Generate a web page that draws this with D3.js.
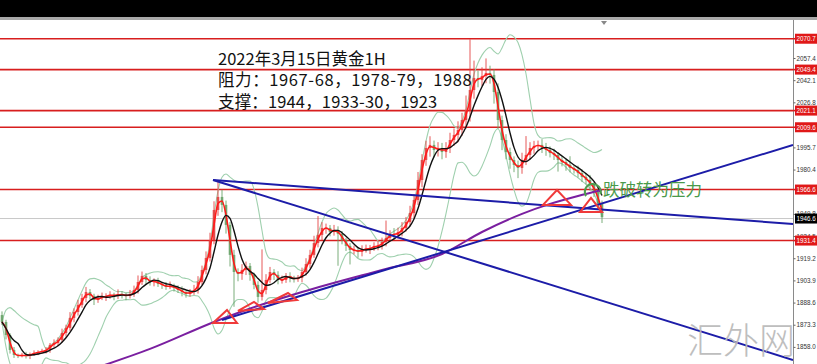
<!DOCTYPE html>
<html><head><meta charset="utf-8">
<script src="https://cdn.jsdelivr.net/npm/d3@7"></script>
<style>body{margin:0;background:#fff;overflow:hidden}svg{display:block}</style>
</head><body>
<svg id="c" width="817" height="364"></svg>
<script>
// ---- data ----
const closes = [1875.2,1866.2,1855.9,1852.4,1851.8,1852.4,1851.8,1853.1,1853.8,1854.5,
1855.2,1855.9,1859.4,1860.7,1862.8,1867.6,1871.1,1878.0,1882.1,1887.0,
1891.8,1895.9,1893.2,1890.4,1891.8,1892.5,1893.2,1893.9,1893.2,1894.5,
1893.9,1893.2,1894.5,1897.3,1902.8,1907.0,1904.2,1902.8,1903.5,1901.4,
1900.8,1899.4,1900.1,1898.7,1897.3,1895.9,1894.5,1895.9,1897.3,1902.8,
1911.1,1919.4,1931.8,1952.5,1961.5,1956.0,1942.2,1921.5,1909.7,1908.3,
1911.1,1913.9,1907.7,1900.8,1892.5,1897.3,1904.2,1909.7,1907.7,1904.2,
1904.2,1907.0,1905.6,1904.9,1905.6,1909.7,1915.2,1921.5,1929.7,1935.3,
1940.1,1940.1,1937.3,1938.7,1936.0,1931.8,1927.7,1924.9,1924.9,1923.5,
1925.6,1925.6,1926.3,1927.7,1927.7,1930.4,1933.2,1936.0,1935.3,1937.3,
1940.1,1944.2,1950.4,1959.4,1973.2,1987.0,1995.3,1997.4,1993.9,1995.3,
1992.5,1995.3,2000.8,2004.3,2007.7,2014.6,2021.5,2035.3,2043.6,2042.2,
2045.0,2047.1,2045.7,2033.9,2014.6,2000.8,1992.5,1987.0,1983.6,1981.5,
1987.0,1990.5,1995.3,1996.7,1997.4,1995.3,1993.9,1991.8,1990.5,1987.0,
1985.6,1983.6,1981.5,1980.1,1978.0,1975.3,1973.2,1969.8,1964.9,1957.0,
1947.5];
const firstOpen = 1880.0;
const upperWick = [2.5,1.5,1.2,2.0,1.0,1.5,2.2,1.0,1.8,1.2,
1.5,2.0,1.3,2.5,1.8,3.0,2.2,4.0,2.5,3.5,
2.8,3.5,2.0,1.5,2.2,3.0,1.8,2.5,1.5,3.2,
2.0,1.5,2.8,3.0,4.5,3.0,2.0,2.5,1.8,2.2,
1.5,2.0,3.0,1.5,1.8,2.5,1.2,2.0,3.5,4.0,
3.0,4.5,5.0,6.0,11.5,5.0,3.0,2.0,3.5,2.5,
4.0,3.0,2.0,1.5,2.5,28.0,4.0,3.5,2.0,2.5,
3.0,2.0,2.5,1.5,2.0,3.0,4.0,3.5,5.0,13.0,
4.0,3.0,2.0,3.5,2.5,2.0,1.5,2.0,3.0,2.0,
2.5,3.0,2.0,2.5,3.5,3.0,12.0,2.5,4.0,3.0,
4.0,3.5,5.0,4.0,5.5,4.0,5.0,6.0,3.0,4.0,
3.5,4.0,5.0,4.5,6.0,5.0,10.0,35.0,12.0,5.0,
6.0,10.0,5.0,4.0,6.0,3.0,4.0,3.0,2.5,3.0,
5.0,13.0,4.0,3.5,3.0,4.0,3.5,2.5,3.0,2.0,
3.0,2.5,6.0,2.0,3.0,2.5,2.0,3.5,2.0,2.5,
2.0];
const lowerWick = [2.0,3.0,2.5,2.0,1.5,1.0,1.8,2.2,1.2,1.5,
1.0,1.8,2.0,1.5,2.2,1.8,2.5,2.0,3.0,2.5,
2.0,3.0,2.5,3.5,2.0,1.5,2.8,2.0,3.0,2.2,
2.5,3.0,1.8,2.0,2.5,2.0,3.5,2.5,3.0,2.0,
2.8,2.0,1.5,2.5,2.0,3.0,2.5,1.8,2.0,2.5,
2.0,3.0,2.5,3.0,4.0,5.0,6.0,8.0,24.0,5.0,
4.0,3.5,4.0,3.0,4.0,2.5,3.0,2.0,3.5,3.0,
2.5,2.0,3.0,2.5,2.0,3.0,2.5,3.0,2.0,3.0,
3.5,4.0,3.0,2.5,22.0,3.0,3.5,10.0,3.0,4.0,
3.0,2.5,3.5,2.0,3.0,2.5,3.0,2.0,3.5,2.5,
3.0,2.5,3.0,4.0,3.5,5.0,4.0,6.0,5.0,4.5,
5.0,4.0,3.5,4.0,5.0,4.0,6.0,8.0,6.0,5.0,
4.0,5.0,6.0,8.0,6.0,7.0,5.0,6.0,5.0,7.0,
4.0,3.5,3.0,4.0,3.0,3.5,4.0,3.0,3.5,8.0,
3.0,4.0,3.0,2.5,3.0,3.5,3.0,4.0,3.5,4.0,
4.0];
const levelLines = [2070.7, 2049.4, 2021.1, 2009.6, 1966.6, 1931.4];
const currentPrice = 1946.6;
const axisTicks = [2057.4, 2042.1, 2026.8, 1995.7, 1980.4, 1949.8, 1934.5, 1919.2, 1903.9, 1888.6, 1873.3, 1858.0];
const trendLines = [
  [[52.75, 1973.2], [197.75, 1942.8]],
  [[52.75, 1973.2], [197.75, 1849.0]],
  [[55.0, 1876.6], [197.75, 1997.4]]
];
const longMA = [[25,1844.9],[37,1856.6],[53,1875.2],[61,1883.5],[75,1895.9],[95,1911.1],[110,1922.1],[120,1937.3],[130,1949.8],[137,1956.7],[144,1962.2],[150,1966.3]];
const triangles = [
  [[52.75,1874.5],[56.25,1883.5],[58.75,1874.5]],
  [[59,1882.8],[63,1889.0],[65.5,1884.2]],
  [[66.5,1888.3],[71.5,1895.2],[73.75,1890.4]],
  [[135.25,1956.0],[138.75,1966.3],[142.25,1956.0]],
  [[144.5,1951.1],[147.25,1960.8],[150,1951.1]]
];
const titleLines = ["2022年3月15日黄金1H", "阻力：1967-68，1978-79，1988", "支撑：1944，1933-30，1923"];
const noteText = "跌破转为压力";
const notePoint = [150.25, 1967.0];
const circlePoint = [147.75, 1965.5];
const watermark = "汇外网";

// ---- chart ----
const W = 817, H = 364, axisX = 793, plotTop = 20;
const svg = d3.select("#c");
const x = d3.scaleLinear().domain([0, 197.75]).range([2, axisX]);
const y = d3.scaleLinear().domain([1858.0, 2057.4]).range([346.9, 58]);

svg.append("rect").attr("width", W).attr("height", H).attr("fill", "#fff");
svg.append("rect").attr("width", W).attr("height", 17).attr("fill", "#000");
svg.append("rect").attr("y", 17).attr("width", W).attr("height", 3).attr("fill", "#a8a8a8");

svg.append("clipPath").attr("id", "pc").append("rect")
  .attr("x", 0).attr("y", plotTop).attr("width", axisX).attr("height", H - plotTop);
const g = svg.append("g").attr("clip-path", "url(#pc)");

// current price line
g.append("line").attr("x1", 0).attr("x2", axisX)
  .attr("y1", y(currentPrice)).attr("y2", y(currentPrice))
  .attr("stroke", "#c8c8c8").attr("stroke-width", 1);

// level lines
g.selectAll(".lvl").data(levelLines).join("line")
  .attr("x1", 0).attr("x2", axisX)
  .attr("y1", d => y(d)).attr("y2", d => y(d))
  .attr("stroke", "#d81e1e").attr("stroke-width", 1.6);

// indicators
function sma(arr, p) {
  return arr.map((v, i) => d3.mean(arr.slice(Math.max(0, i - p + 1), i + 1)));
}
const opens = closes.map((c, i) => i === 0 ? firstOpen : closes[i - 1]);
const highs = closes.map((c, i) => Math.max(opens[i], c) + upperWick[i]);
const lows = closes.map((c, i) => Math.min(opens[i], c) - lowerWick[i]);
const bbP = 10;
const mid = sma(closes, bbP);
const sd = closes.map((v, i) => d3.deviation(closes.slice(Math.max(0, i - bbP + 1), i + 1)) || 0);
const bbUp = mid.map((m, i) => m + 2 * sd[i]);
const bbDn = mid.map((m, i) => m - 2 * sd[i]);
const maFast = sma(closes, 2);
const maSlow = sma(closes, 5);

const lineIdx = d3.line().x((d, i) => x(i)).y(d => y(d)).curve(d3.curveMonotoneX);
[bbUp, bbDn].forEach(arr => {
  g.append("path").attr("d", lineIdx(arr)).attr("fill", "none")
    .attr("stroke", "#9fd0ae").attr("stroke-width", 1.1);
});

// candles
const cg = g.append("g");
closes.forEach((c, i) => {
  const up = c >= opens[i];
  const col = up ? "#e23c3c" : "#64a064";
  cg.append("line").attr("x1", x(i)).attr("x2", x(i))
    .attr("y1", y(highs[i])).attr("y2", y(lows[i]))
    .attr("stroke", col).attr("stroke-width", 1).attr("opacity", 0.85);
  const yt = y(Math.max(opens[i], c)), yb = y(Math.min(opens[i], c));
  cg.append("rect").attr("x", x(i) - 1.3).attr("width", 2.6)
    .attr("y", yt).attr("height", Math.max(1, yb - yt))
    .attr("fill", col).attr("opacity", 0.85);
});

g.append("path").attr("d", lineIdx(maFast)).attr("fill", "none")
  .attr("stroke", "#ff1a1a").attr("stroke-width", 1.6);
g.append("path").attr("d", lineIdx(maSlow)).attr("fill", "none")
  .attr("stroke", "#111").attr("stroke-width", 1.4);

// long MA (purple)
const curvePts = d3.line().x(d => x(d[0])).y(d => y(d[1])).curve(d3.curveMonotoneX);
const linePts = d3.line().x(d => x(d[0])).y(d => y(d[1]));
g.append("path").attr("d", curvePts(longMA)).attr("fill", "none")
  .attr("stroke", "#7a1fa0").attr("stroke-width", 2);

// trend lines
trendLines.forEach(t => {
  g.append("path").attr("d", linePts(t)).attr("fill", "none")
    .attr("stroke", "#1c1ca8").attr("stroke-width", 2);
});

// triangles
triangles.forEach(t => {
  g.append("path").attr("d", linePts(t) + "Z").attr("fill", "none")
    .attr("stroke", "#f03a3a").attr("stroke-width", 2);
});

// green note
const cx = x(circlePoint[0]), cy = y(circlePoint[1]);
g.append("path")
  .attr("d", `M${cx - 7},${cy + 5} A8,8 0 1,1 ${cx + 7.5},${cy + 3}`)
  .attr("fill", "none").attr("stroke", "#4f9e4f").attr("stroke-width", 2);
g.append("text").attr("x", x(notePoint[0])).attr("y", y(notePoint[1]) + 7)
  .attr("font-family", "Noto Sans CJK SC").attr("font-size", 16.5)
  .attr("fill", "#4a9a4a").text(noteText);

// title
const titleSpacing = [0, 0.6, 0.15];
g.selectAll(".tt").data(titleLines).join("text")
  .attr("x", 218).attr("y", (d, i) => 64.5 + i * 21.5)
  .attr("letter-spacing", (d, i) => titleSpacing[i])
  .attr("font-family", "Noto Sans CJK SC").attr("font-size", 16.5)
  .attr("fill", "#111").text(d => d);

// axis
svg.append("line").attr("x1", axisX + 0.5).attr("x2", axisX + 0.5).attr("y1", plotTop).attr("y2", H)
  .attr("stroke", "#8a8a8a").attr("stroke-width", 1);
const ax = svg.append("g").attr("transform", `translate(${axisX + 0.5},0)`)
  .call(d3.axisRight(y).tickValues(axisTicks).tickFormat(d3.format(".1f")).tickSize(2).tickPadding(1));
ax.select(".domain").remove();
ax.selectAll("line").attr("stroke", "#666");
ax.selectAll("text").attr("font-family", "Liberation Sans").attr("font-size", 6.3).attr("fill", "#333");

// price labels
function priceLabel(v, fill) {
  svg.append("rect").attr("x", 795).attr("y", y(v) - 5).attr("width", 22).attr("height", 10).attr("fill", fill);
  svg.append("text").attr("x", 796.5).attr("y", y(v) + 2.3).attr("font-family", "Liberation Sans")
    .attr("font-size", 6.3).attr("fill", "#fff").text(d3.format(".1f")(v));
}
levelLines.forEach(v => {
  svg.append("line").attr("x1", axisX).attr("x2", 796).attr("y1", y(v)).attr("y2", y(v))
    .attr("stroke", "#d81e1e").attr("stroke-width", 1.6);
  priceLabel(v, "#e01818");
});
priceLabel(currentPrice, "#000");

// small marker at top
svg.append("path").attr("d", "M601,21 L607,21 L604,25 Z").attr("fill", "#888");

// watermark
svg.append("text").attr("x", 687).attr("y", 354)
  .attr("font-family", "Noto Sans CJK SC").attr("font-size", 36).attr("font-weight", 300)
  .attr("fill", "#b8b8b8").attr("opacity", 0.9).text(watermark);
</script>
</body></html>
